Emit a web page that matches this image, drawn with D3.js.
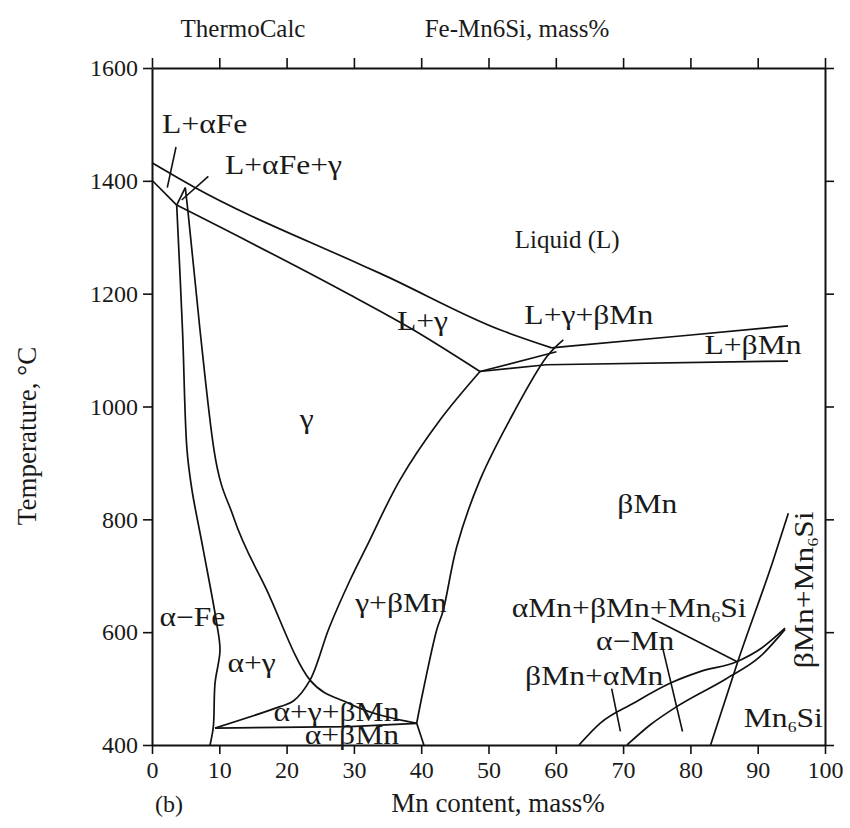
<!DOCTYPE html>
<html><head><meta charset="utf-8">
<script src="https://cdn.jsdelivr.net/npm/d3@7/dist/d3.min.js"></script>
<style>
body{margin:0;background:#fff}
svg{display:block}
text{font-family:"Liberation Serif","Times New Roman",serif;fill:#1a1a1a}
</style>
</head><body>
<svg id="chart" width="850" height="828"></svg>
<script>
// ---------- data ----------
const xTicks = [0,10,20,30,40,50,60,70,80,90,100];
const yTicks = [400,600,800,1000,1200,1400,1600];

// phase boundaries: [Mn mass%, T °C]
const liquidusGamma   = [[0,1432],[6.1,1390],[29.4,1260],[33.9,1236],[51.7,1136],[59.4,1104]];
const liquidusBetaMn  = [[59.4,1104],[78.5,1125],[94.5,1143]];
const solidusAlpha    = [[0,1401],[3.67,1357]];
const solidusGamma    = [[3.67,1357],[29.4,1198],[38.8,1136],[48.74,1062]];
const peritecticEdge  = [[3.67,1357],[4.95,1388]];
const gammaAlphaLine  = [[4.95,1388],[5.35,1345],[7.13,1136],[9.21,923],[12.08,805],[17.04,675],[23.48,515],[29.2,474],[39.33,438.5]];
const alphaFeLine     = [[3.67,1357],[4.53,1136],[5.2,923],[5.94,852],[7.62,746],[9.61,616],[10.1,568],[9.36,509],[9.11,432],[8.62,400]];
const gammaBetaLine   = [[48.74,1062],[42.79,976],[36.85,870],[31.9,752],[29.42,692],[26.3,607],[23.48,515],[21.0,478],[19.02,468],[9.36,430]];
const eutectoidLine   = [[9.36,430],[29.4,432.4],[39.33,438.5]];
const betaMnLine      = [[61.11,1118],[58.65,1088],[53.69,988],[48.74,870],[45.28,751.5],[43.28,639],[42.3,604],[40.31,497.5],[39.33,438.5]];
const alphaBetaLine   = [[39.33,438.5],[40.4,400]];
const eutecticUpper   = [[48.74,1062],[60.1,1097]];
const eutecticLower   = [[48.74,1062],[58.6,1074],[94.5,1080.6]];
const mn6siLine       = [[83.0,400],[87.12,550.7],[92.32,728],[94.55,810.7]];
const alphaMnUpper    = [[63.45,400],[66.57,438.5],[71.52,474],[76.97,509.4],[81.43,530],[86.88,547.7],[90.6,572],[94.06,607]];
const alphaMnLower    = [[70.58,400],[74.0,435.5],[77.96,468],[85.39,518],[90.34,556.5],[94.06,605]];

const monotoneLines = [liquidusGamma, liquidusBetaMn, solidusGamma, gammaAlphaLine, mn6siLine, alphaMnUpper, alphaMnLower];
const smoothLines = [alphaFeLine, gammaBetaLine, betaMnLine];
const straightLines = [solidusAlpha, peritecticEdge, eutectoidLine, alphaBetaLine, eutecticUpper, eutecticLower];

// leader lines from labels
const leaders = [
  [[3.57,1460],[2.27,1388]],
  [[8.37,1408],[4.41,1366]],
  [[74.25,625],[86.88,548]],
  [[75.78,577],[78.83,424]],
  [[68.3,500],[69.6,424]]
];

// region labels: text, Mn%, T
const labels = [
  {t:"L+αFe", x:1.5, y:1485, a:"start"},
  {t:"L+αFe+γ", x:10.85, y:1412, a:"start"},
  {t:"L+γ", x:40.2, y:1136, a:"middle"},
  {t:"L+γ+βMn", x:64.9, y:1146, a:"middle"},
  {t:"L+βMn", x:89.3, y:1093, a:"middle"},
  {t:"γ", x:23.0, y:962, a:"middle"},
  {t:"βMn", x:73.6, y:811, a:"middle"},
  {t:"α−Fe", x:6.0, y:611, a:"middle"},
  {t:"α+γ", x:14.8, y:530, a:"middle"},
  {t:"γ+βMn", x:37.0, y:636, a:"middle"},
  {t:"α+γ+βMn", x:27.4, y:442, a:"middle"},
  {t:"α+βMn", x:29.7, y:402, a:"middle"},
  {t:"αMn+βMn+Mn", sub:"6", tail:"Si", x:70.9, y:627, a:"middle"},
  {t:"α−Mn", x:71.8, y:568, a:"middle"},
  {t:"βMn+αMn", x:65.7, y:506, a:"middle"},
  {t:"Mn", sub:"6", tail:"Si", x:93.8, y:432, a:"middle"}
];
const liquidLabel = {t:"Liquid (L)", x:61.7, y:1281};
const rotatedLabel = {t:"βMn+Mn", sub:"6", tail:"Si", x:98.2, y:675};

// ---------- drawing ----------
const svg = d3.select("#chart");
const x = d3.scaleLinear().domain([0,100]).range([152,825]);
const y = d3.scaleLinear().domain([400,1600]).range([745,68]);

const mono = d3.line().x(d=>x(d[0])).y(d=>y(d[1])).curve(d3.curveMonotoneX);
const smooth = d3.line().x(d=>x(d[0])).y(d=>y(d[1])).curve(d3.curveCatmullRom.alpha(0.5));
const straight = d3.line().x(d=>x(d[0])).y(d=>y(d[1]));

const g = svg.append("g").attr("fill","none").attr("stroke","#111");
g.selectAll("path.m").data(monotoneLines).join("path").attr("class","m")
  .attr("d",mono).attr("stroke-width",1.7);
g.selectAll("path.s").data(smoothLines).join("path").attr("class","s")
  .attr("d",smooth).attr("stroke-width",1.7);
g.selectAll("path.l").data(straightLines).join("path").attr("class","l")
  .attr("d",straight).attr("stroke-width",1.7);
g.selectAll("path.ld").data(leaders).join("path").attr("class","ld")
  .attr("d",straight).attr("stroke-width",1.6);

// axes
function styleAxis(sel){
  sel.select(".domain").attr("stroke","#111").attr("stroke-width",2);
  sel.selectAll(".tick line").attr("stroke","#111").attr("stroke-width",1.6);
  sel.selectAll(".tick text").attr("font-size",24).attr("fill","#1a1a1a")
     .attr("font-family",'"Liberation Serif","Times New Roman",serif');
}
svg.append("g").attr("transform","translate(152,0)")
  .call(d3.axisLeft(y).tickValues(yTicks).tickSize(9).tickSizeOuter(0).tickPadding(5).tickFormat(d3.format("d")))
  .call(styleAxis);
svg.append("g").attr("transform","translate(825,0)")
  .call(d3.axisRight(y).tickValues(yTicks).tickSize(9).tickSizeOuter(0).tickFormat(""))
  .call(styleAxis);
svg.append("g").attr("transform","translate(0,745)")
  .call(d3.axisBottom(x).tickValues(xTicks).tickSize(9).tickSizeOuter(0).tickPadding(7).tickFormat(d3.format("d")))
  .call(styleAxis);
svg.append("g").attr("transform","translate(0,68)")
  .call(d3.axisTop(x).tickValues(xTicks).tickSize(10).tickSizeOuter(0).tickFormat(""))
  .call(styleAxis);

// region labels (glyphs in the source are horizontally wide)
const lab = svg.append("g").attr("font-size",27);
function addLabel(L, extra){
  const t = lab.append("text")
    .attr("transform",`translate(${x(L.x)},${y(L.y)})${extra||""} scale(1.17,1)`)
    .attr("text-anchor",L.a||"middle").text(L.t);
  if(L.sub){
    t.append("tspan").attr("font-size",15).attr("dy",5).text(L.sub);
    t.append("tspan").attr("dy",-5).text(L.tail);
  }
  return t;
}
labels.forEach(L=>addLabel(L));
addLabel(rotatedLabel," rotate(-90)");
lab.append("text").attr("x",x(liquidLabel.x)).attr("y",y(liquidLabel.y))
  .attr("text-anchor","middle").attr("font-size",25).text(liquidLabel.t);

// titles
svg.append("text").attr("x",243).attr("y",37).attr("text-anchor","middle").attr("font-size",25).text("ThermoCalc");
svg.append("text").attr("x",517).attr("y",37).attr("text-anchor","middle").attr("font-size",25).text("Fe-Mn6Si, mass%");
svg.append("text").attr("x",498).attr("y",812).attr("text-anchor","middle").attr("font-size",27).text("Mn content, mass%");
svg.append("text").attr("x",155).attr("y",812).attr("text-anchor","start").attr("font-size",24).text("(b)");
svg.append("text").attr("transform","translate(36,436) rotate(-90)").attr("text-anchor","middle")
  .attr("font-size",27).text("Temperature, °C");
</script>
</body></html>
